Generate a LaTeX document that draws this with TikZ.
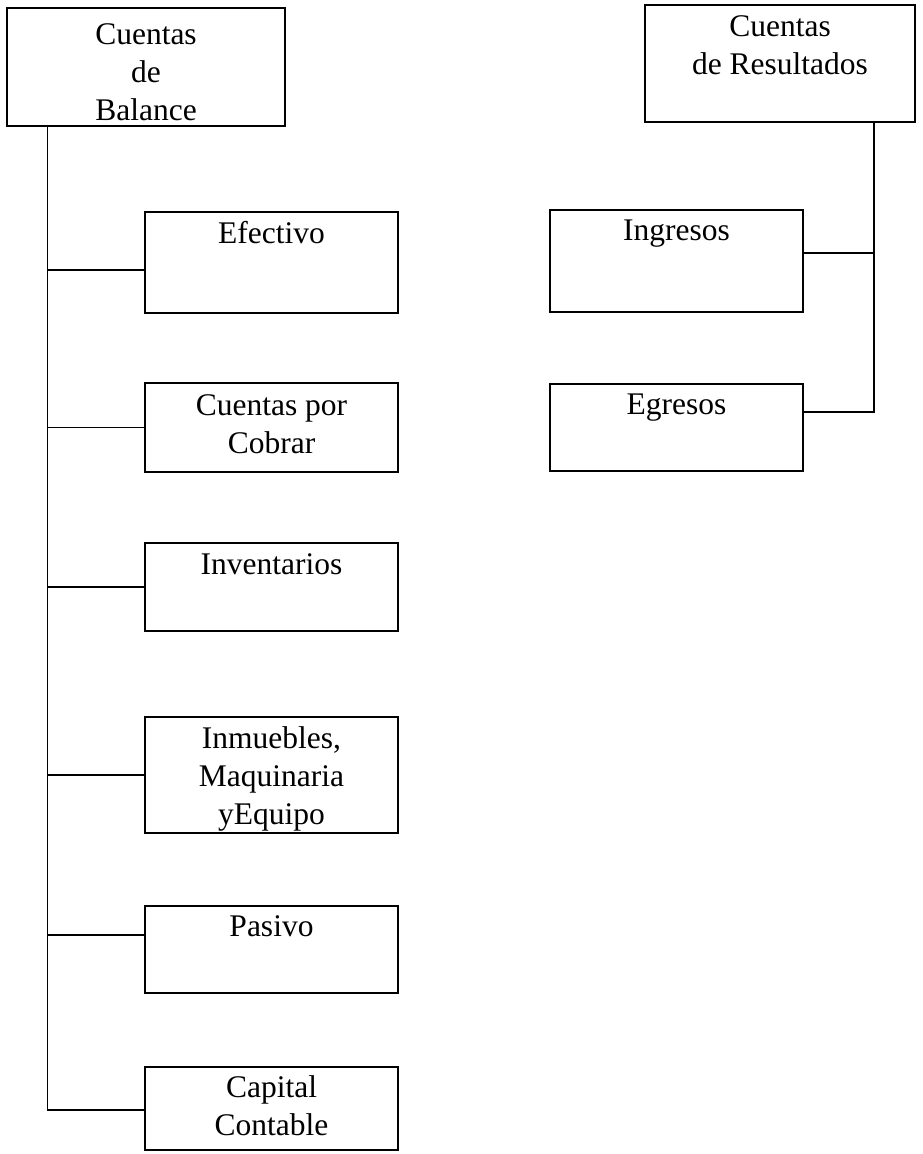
\documentclass[tikz,border=0pt]{standalone}
\usepackage{fontspec}
\setmainfont{Liberation Serif}
\begin{document}
\begin{tikzpicture}[x=1pt,y=-1pt,
  acct/.style={draw=black, line width=1.5pt, inner sep=0pt, minimum width=253pt},
  lbl/.style={anchor=north, inner sep=0pt, align=center,
    font=\fontsize{31.5}{38}\selectfont},
  link/.style={draw=black, line width=1.5pt}]
\useasboundingbox (0,0) rectangle (922,1154);

% top-level account groups
\node[acct, minimum width=278pt, minimum height=118pt] (balance) at (146,67) {};
\node[lbl] at ([yshift=-16pt]balance.north) {Cuentas\\de\\Balance};
\node[acct, minimum width=270pt, minimum height=117pt] (resultados) at (780,63.5) {};
\node[lbl] at ([yshift=-11pt]resultados.north) {Cuentas\\de Resultados};

% balance sheet accounts
\node[acct, minimum height=101pt] (efectivo) at (271.5,262.5) {};
\node[lbl] at ([yshift=-10pt]efectivo.north) {Efectivo};
\node[acct, minimum height=89pt] (cobrar) at (271.5,427.5) {};
\node[lbl] at ([yshift=-12pt]cobrar.north) {Cuentas por\\Cobrar};
\node[acct, minimum height=88pt] (inventarios) at (271.5,587) {};
\node[lbl] at ([yshift=-11pt]inventarios.north) {Inventarios};
\node[acct, minimum height=116pt] (inmuebles) at (271.5,775) {};
\node[lbl] at ([yshift=-10pt]inmuebles.north) {Inmuebles,\\Maquinaria\\yEquipo};
\node[acct, minimum height=87pt] (pasivo) at (271.5,949.5) {};
\node[lbl] at ([yshift=-10pt]pasivo.north) {Pasivo};
\node[acct, minimum height=83pt] (capital) at (271.5,1108.5) {};
\node[lbl] at ([yshift=-9pt]capital.north) {Capital\\Contable};

% income statement accounts
\node[acct, minimum height=102pt] (ingresos) at (676.5,261) {};
\node[lbl] at ([yshift=-10pt]ingresos.north) {Ingresos};
\node[acct, minimum height=87pt] (egresos) at (676.5,427.5) {};
\node[lbl] at ([yshift=-10pt]egresos.north) {Egresos};

% left trunk (yshift is measured upward on the page)
\coordinate (lt) at ([xshift=41pt]balance.south west);
\draw[link] (lt) |- ([yshift=-1.5pt]capital.west);
\draw[link] ([yshift=-7.5pt]efectivo.west) -- ([yshift=-7.5pt]efectivo.west -| lt);
\draw[link] (cobrar.west) -- (cobrar.west -| lt);
\draw[link] (inventarios.west) -- (inventarios.west -| lt);
\draw[link] (inmuebles.west) -- (inmuebles.west -| lt);
\draw[link] ([yshift=14.5pt]pasivo.west) -- ([yshift=14.5pt]pasivo.west -| lt);

% right trunk
\coordinate (rt) at ([xshift=-42pt]resultados.south east);
\draw[link] (rt) |- ([yshift=15.5pt]egresos.east);
\draw[link] ([yshift=8pt]ingresos.east) -- ([yshift=8pt]ingresos.east -| rt);
\end{tikzpicture}
\end{document}
